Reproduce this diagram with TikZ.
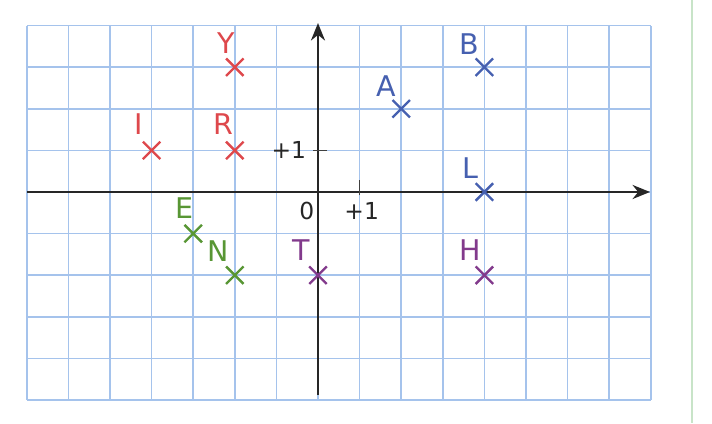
\documentclass[tikz,border=0pt]{standalone}
\usepackage{fontspec}
\setmainfont{DejaVu Sans}
\usetikzlibrary{arrows.meta,calc}
\definecolor{gridblue}{RGB}{165,195,236}
\definecolor{ptred}{RGB}{222,72,76}
\definecolor{ptblue}{RGB}{70,96,176}
\definecolor{ptgreen}{RGB}{88,150,52}
\definecolor{ptpurple}{RGB}{130,58,140}
\definecolor{pageedge}{RGB}{200,228,200}
\tikzset{
  gridline/.style={draw=gridblue, line width=1pt},
  axisline/.style={draw=black!85, line width=1.2pt, -{Stealth[length=0.42cm,width=0.34cm]}},
  tickline/.style={draw=black!75, line width=1pt},
  crossmark/.style={line width=1.6pt},
  ptlabel/.style={font=\fontsize{19.5}{22}\selectfont, inner sep=0pt},
  numlabel/.style={font=\fontsize{16}{19}\selectfont, text=black!85, inner sep=0pt},
}
\newcommand{\mycross}[3]{%
  \draw[crossmark,#3] ($(#1,#2)+(-0.21,-0.21)$) -- ($(#1,#2)+(0.21,0.21)$);
  \draw[crossmark,#3] ($(#1,#2)+(-0.21,0.21)$) -- ($(#1,#2)+(0.21,-0.21)$);}
\begin{document}
\begin{tikzpicture}
\useasboundingbox (-7.644,-5.553) rectangle (9.471,4.615);
\fill[white] (-7.644,-5.553) rectangle (9.471,4.615);
% page edge
\draw[pageedge, line width=1.6pt] (8.99,4.615) -- (8.99,-5.553);
% grid
\draw[gridline] (-7,-5) grid (8,4);
% axes
\coordinate (xs) at (-7,0);
\coordinate (xe) at (7.98,0);
\coordinate (ys) at (0,-4.88);
\coordinate (ye) at (0,4.06);
\draw[axisline] (xs) -- (xe);
\draw[axisline] (ys) -- (ye);
% ticks
\draw[tickline] (-0.12,1) -- (0.22,1);
\draw[tickline] (1,-0.08) -- (1,0.28);
% axis numbers
\node[numlabel] (zero) at (-0.27,-0.45) {0};
\node[numlabel] (xone) at (1.05,-0.45) {+1};
\node[numlabel] (yone) at (-0.70,1.0) {+1};
% points
\coordinate (Y) at (-2,3);
\coordinate (R) at (-2,1);
\coordinate (I) at (-4,1);
\coordinate (A) at (2,2);
\coordinate (B) at (4,3);
\coordinate (L) at (4,0);
\coordinate (E) at (-3,-1);
\coordinate (N) at (-2,-2);
\coordinate (T) at (0,-2);
\coordinate (H) at (4,-2);
\mycross{-2}{3}{ptred}
\mycross{-2}{1}{ptred}
\mycross{-4}{1}{ptred}
\mycross{2}{2}{ptblue}
\mycross{4}{3}{ptblue}
\mycross{4}{0}{ptblue}
\mycross{-3}{-1}{ptgreen}
\mycross{-2}{-2}{ptgreen}
\mycross{0}{-2}{ptpurple}
\mycross{4}{-2}{ptpurple}
\node[ptlabel, text=ptred] (lY) at ($(Y)+(-0.2,0.58)$) {Y};
\node[ptlabel, text=ptred] (lR) at ($(R)+(-0.27,0.62)$) {R};
\node[ptlabel, text=ptred] (lI) at ($(I)+(-0.31,0.62)$) {I};
\node[ptlabel, text=ptblue] (lA) at ($(A)+(-0.36,0.54)$) {A};
\node[ptlabel, text=ptblue] (lB) at ($(B)+(-0.36,0.56)$) {B};
\node[ptlabel, text=ptblue] (lL) at ($(L)+(-0.34,0.58)$) {L};
\node[ptlabel, text=ptgreen] (lE) at ($(E)+(-0.2,0.62)$) {E};
\node[ptlabel, text=ptgreen] (lN) at ($(N)+(-0.4,0.58)$) {N};
\node[ptlabel, text=ptpurple] (lT) at ($(T)+(-0.4,0.6)$) {T};
\node[ptlabel, text=ptpurple] (lH) at ($(H)+(-0.34,0.6)$) {H};
\end{tikzpicture}
\end{document}
